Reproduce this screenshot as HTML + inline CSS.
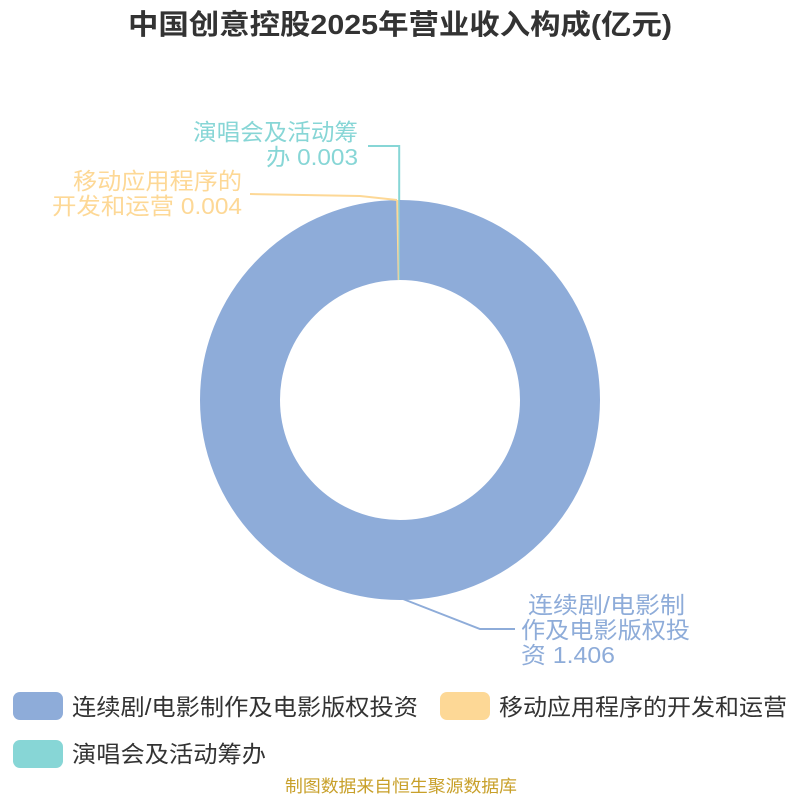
<!DOCTYPE html>
<html><head><meta charset="utf-8"><style>
body{margin:0;background:#fff;width:800px;height:800px;overflow:hidden;font-family:"Liberation Sans","Noto Sans CJK SC",sans-serif}
</style></head><body>
<svg width="800" height="800" xmlns="http://www.w3.org/2000/svg" font-family="Liberation Sans, Noto Sans CJK SC, sans-serif">
<text x="128" y="34" font-size="28" font-weight="bold" fill="#333" textLength="544" lengthAdjust="spacingAndGlyphs">中国创意控股2025年营业收入构成(亿元)</text>
<circle cx="400" cy="400" r="160" fill="none" stroke="#8eacd9" stroke-width="80"/>
<path d="M396.2 200 L398.3 200 L398.9 280 L397.7 280 Z" fill="#fdd896"/>
<path d="M398.3 200 L399.6 200 L399.8 280 L398.9 280 Z" fill="#87d6d6"/>
<polyline points="397,200 360,196 250,194" fill="none" stroke="#fdd896" stroke-width="2"/>
<polyline points="399.2,200 399.2,146 368,146" fill="none" stroke="#87d6d6" stroke-width="2"/>
<polyline points="403,599 480,629 515,629" fill="none" stroke="#8eacd9" stroke-width="2"/>
<g font-size="23">
<text x="193" y="140" fill="#87d6d6" textLength="165" lengthAdjust="spacingAndGlyphs">演唱会及活动筹</text>
<text x="266" y="165" fill="#87d6d6" textLength="92" lengthAdjust="spacingAndGlyphs">办 0.003</text>
<text x="73" y="189" fill="#fdd896" textLength="169" lengthAdjust="spacingAndGlyphs">移动应用程序的</text>
<text x="52" y="214" fill="#fdd896" textLength="190" lengthAdjust="spacingAndGlyphs">开发和运营 0.004</text>
</g>
<g font-size="23" fill="#8eacd9">
<text x="528" y="613" textLength="157" lengthAdjust="spacingAndGlyphs">连续剧/电影制</text>
<text x="521" y="638" textLength="169" lengthAdjust="spacingAndGlyphs">作及电影版权投</text>
<text x="521" y="663" textLength="94" lengthAdjust="spacingAndGlyphs">资 1.406</text>
</g>
<g font-size="23" fill="#333">
<rect x="13" y="692" width="50" height="28" rx="7" fill="#8eacd9"/>
<text x="72" y="715" textLength="346" lengthAdjust="spacingAndGlyphs">连续剧/电影制作及电影版权投资</text>
<rect x="440" y="692" width="50" height="28" rx="7" fill="#fdd896"/>
<text x="499" y="715" textLength="288" lengthAdjust="spacingAndGlyphs">移动应用程序的开发和运营</text>
<rect x="13" y="740" width="50" height="28" rx="7" fill="#87d6d6"/>
<text x="72" y="762" textLength="194" lengthAdjust="spacingAndGlyphs">演唱会及活动筹办</text>
</g>
<text x="285" y="792" font-size="17" fill="#c8a02a" textLength="232" lengthAdjust="spacingAndGlyphs">制图数据来自恒生聚源数据库</text>
</svg>
</body></html>
